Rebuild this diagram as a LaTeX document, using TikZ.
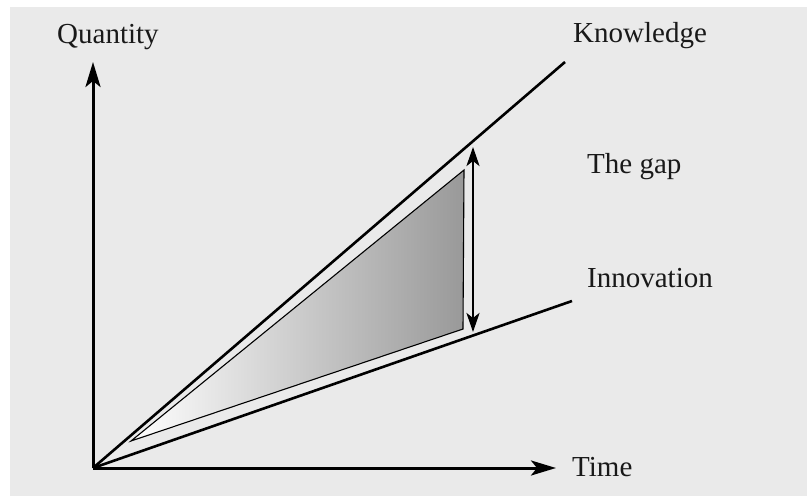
\documentclass[tikz,border=0pt]{standalone}
\usepackage{fontspec}
\setmainfont{Liberation Serif}
\usetikzlibrary{arrows.meta}
\definecolor{bg}{HTML}{EAEAEA}
\begin{document}
\begin{tikzpicture}[x=1pt,y=-1pt,
  lbl/.style={font=\fontsize{29}{32}\selectfont, inner sep=0pt, anchor=base west, text=black!90},
  axis/.style={line width=3pt, -{Stealth[length=25pt,width=15pt,inset=6pt]}},
  trend/.style={line width=2.6pt},
  gaparrow/.style={line width=2.6pt, {Stealth[length=19pt,width=13pt,inset=5pt]}-{Stealth[length=19pt,width=13pt,inset=5pt]}}]
\useasboundingbox (0,0) rectangle (807,496);
\fill[white] (0,0) rectangle (807,496);
\fill[bg] (10,7) rectangle (807,496);
\coordinate (O) at (93,468);
\coordinate (Ytop) at (93,62);
\coordinate (Xend) at (556,468);
\coordinate (K) at (565,62);
\coordinate (I) at (572,301);
\coordinate (A) at (131,441);
\coordinate (B) at (464,170);
\coordinate (C) at (463,329);
\coordinate (Gt) at (473,147);
\coordinate (Gb) at (473,332);
\shade[left color=white, right color=black!40, draw=black, line width=1.1pt, line join=miter] (A) -- (B) -- (C) -- cycle;
\draw[trend] (O) -- (K);
\draw[trend] (O) -- (I);
\draw[axis] (O) -- (Ytop);
\draw[axis] (O) -- (Xend);
\draw[gaparrow] (Gt) -- (Gb);
\node[lbl] (q) at (57,43) {Quantity};
\node[lbl] (k) at (573,42) {Knowledge};
\node[lbl] (g) at (587,173) {The gap};
\node[lbl] (n) at (587,287) {Innovation};
\node[lbl] (t) at (572,476) {Time};
\end{tikzpicture}
\end{document}
